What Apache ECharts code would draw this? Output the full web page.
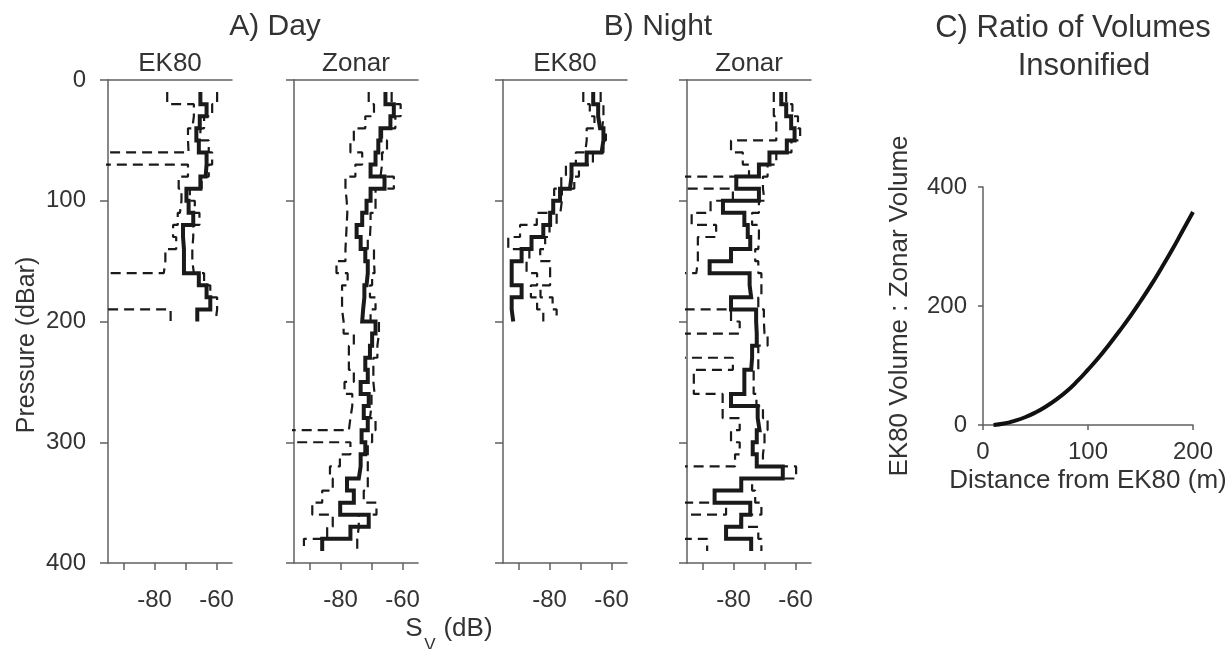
<!DOCTYPE html>
<html><head><meta charset="utf-8">
<script src="https://cdn.jsdelivr.net/npm/echarts@6/dist/echarts.min.js"></script>
<style>html,body{margin:0;padding:0;background:#fff}#c{width:1232px;height:649px}</style>
</head><body><div id="c"></div>
<script>
// ---------- data ----------
const ek80Pressure = [10,20,30,40,50,60,70,80,90,100,110,120,130,140,150,160,170,180,190,200];
const zonarPressure = [10,20,30,40,50,60,70,80,90,100,110,120,130,140,150,160,170,180,190,200,
  210,220,230,240,250,260,270,280,290,300,310,320,330,340,350,360,370,380,390];

// A) Day - EK80 (Sv, dB)
const dayEK80Main = [-65.2,-63.2,-65.4,-66.5,-65.7,-63.2,-63.5,-65.2,-69.7,-69.0,-67.5,-70.8,-70.5,-70.5,-70.5,-65.7,-63.2,-62.0,-66.2];
const dayEK80Low  = [-75.9,-67.3,-67.8,-69.2,-69.0,-100,-69.2,-72.2,-71.3,-71.8,-72.5,-74.0,-73.0,-76.5,-77.0,-100,-100,-100,-74.8];
const dayEK80High = [-59.8,-61.4,-64.0,-65.2,-62.5,-61.4,-62.5,-64.8,-68.6,-67.0,-65.5,-67.5,-67.8,-67.8,-67.3,-64.0,-62.0,-59.8,-60.3];

// A) Day - Zonar
const dayZonarMain = [-65.5,-62.8,-63.9,-67.1,-67.8,-68.7,-70.3,-65.8,-70.3,-71.6,-73.0,-74.8,-73.5,-72.0,-71.2,-71.6,-72.3,-72.7,-73.0,
  -68.7,-69.8,-70.5,-72.0,-71.2,-73.5,-70.9,-72.5,-71.2,-73.2,-72.0,-73.5,-74.1,-77.9,-75.7,-80.1,-70.9,-76.8,-85.9];
const dayZonarLow = [-70.9,-69.2,-72.0,-75.7,-76.8,-73.0,-75.2,-78.4,-78.0,-77.8,-78.0,-78.2,-78.4,-78.4,-81.3,-77.7,-79.5,-79.5,-79.0,
  -79.0,-75.7,-77.3,-77.3,-75.7,-78.7,-76.2,-76.8,-77.3,-100,-76.8,-80.2,-83.4,-82.5,-85.9,-89.1,-82.5,-84.3,-91.8];
const dayZonarHigh = [-63.5,-60.6,-62.3,-66.6,-65.0,-66.6,-67.1,-62.8,-68.7,-68.7,-70.3,-70.5,-71.2,-69.2,-69.0,-69.8,-70.5,-68.7,-70.3,
  -67.6,-68.1,-68.1,-69.4,-69.4,-69.0,-70.0,-70.5,-68.7,-69.8,-71.2,-71.2,-71.2,-71.2,-72.5,-68.4,-74.1,-74.6,-74.6];

// B) Night - EK80
const nightEK80Main = [-65.9,-64.3,-63.7,-62.6,-63.2,-68.0,-72.9,-73.4,-76.6,-78.8,-79.8,-82.0,-85.8,-89.0,-92.2,-92.2,-89.0,-92.2,-91.7];
const nightEK80Low  = [-69.1,-67.0,-65.5,-68.0,-68.5,-71.5,-74.7,-76.2,-78.5,-79.0,-84.1,-89.5,-93.3,-86.5,-87.4,-84.0,-86.0,-84.0,-82.0];
const nightEK80High = [-63.5,-62.6,-63.0,-61.8,-62.6,-66.0,-70.5,-72.0,-76.0,-76.5,-77.7,-80.0,-81.4,-83.0,-79.8,-79.8,-82.9,-79.0,-77.7];

// B) Night - Zonar
const nightZonarMain = [-64.6,-63.0,-61.4,-60.3,-62.8,-68.4,-71.8,-79.1,-71.8,-83.4,-76.5,-75.4,-74.6,-80.8,-87.7,-74.8,-74.3,-80.8,-72.7,
  -72.5,-72.5,-74.0,-74.3,-76.5,-76.5,-80.8,-72.2,-71.6,-72.5,-73.8,-72.5,-64.1,-77.5,-86.1,-74.6,-77.5,-82.4,-74.3];
const nightZonarLow = [-67.0,-67.0,-66.2,-66.2,-80.8,-77.0,-75.0,-100,-80.2,-87.4,-93.5,-85.6,-91.5,-91.5,-92.0,-100,-100,-100,-80.8,
  -78.0,-100,-100,-80.2,-92.8,-92.8,-83.5,-83.5,-78.0,-80.8,-78.0,-79.5,-100,-100,-100,-82.4,-100,-100,-88.5];
const nightZonarHigh = [-63.0,-61.0,-59.2,-58.5,-61.3,-66.2,-69.0,-70.5,-70.0,-71.8,-74.0,-71.8,-72.0,-73.0,-72.0,-71.0,-71.0,-72.0,-70.2,
  -70.0,-69.0,-72.0,-72.0,-73.5,-73.5,-72.6,-70.5,-69.0,-70.0,-70.5,-70.5,-59.8,-74.0,-73.0,-71.0,-77.7,-72.0,-71.0];

// C) Ratio of volumes insonified
const distance = [10,20,30,40,50,60,70,80,90,100,110,120,130,140,150,160,170,180,190,200];
const volumeRatio = [0,2.5,7,13,21,31,43,57,74,93,113,135,158,182,208,235,264,294,326,358];

const svTicks = [-90,-80,-70,-60];
const svLabels = [-80,-60];
const panelTitles = ['EK80','Zonar','EK80','Zonar'];

// ---------- chart ----------
const FONT = "'Liberation Sans', Arial, Helvetica, sans-serif";
const AX = '#606060', TXT = '#333333', INK = '#1a1a1a';
const panelLeft = [108, 294, 503, 687];
const panels = [
  [dayEK80Main, dayEK80Low, dayEK80High, ek80Pressure],
  [dayZonarMain, dayZonarLow, dayZonarHigh, zonarPressure],
  [nightEK80Main, nightEK80Low, nightEK80High, ek80Pressure],
  [nightZonarMain, nightZonarLow, nightZonarHigh, zonarPressure]
];
function steps(edges, vals) {
  const pts = [];
  vals.forEach((v, i) => { pts.push([v, edges[i]]); pts.push([v, edges[i + 1]]); });
  return pts;
}
const axisLineStyle = { color: AX, width: 1.5 };
const grid = [], xAxis = [], yAxis = [], series = [];
panels.forEach((p, i) => {
  grid.push({ left: panelLeft[i], top: 80, width: 124, height: 483 });
  xAxis.push({ gridIndex: i, type: 'value', min: -95, max: -55, position: 'bottom',
    axisLine: { show: true, onZero: false, lineStyle: axisLineStyle },
    axisTick: { show: true, length: 7, customValues: svTicks, lineStyle: axisLineStyle },
    axisLabel: { show: true, customValues: svLabels, fontSize: 24, color: TXT, margin: 25, fontFamily: FONT },
    splitLine: { show: false } });
  xAxis.push({ gridIndex: i, type: 'value', min: -95, max: -55, position: 'top',
    axisLine: { show: true, onZero: false, lineStyle: axisLineStyle },
    axisTick: { show: false }, axisLabel: { show: false }, splitLine: { show: false } });
  yAxis.push({ gridIndex: i, type: 'value', inverse: true, min: 0, max: 400, interval: 100,
    axisLine: { show: true, onZero: false, lineStyle: axisLineStyle },
    axisTick: { show: true, length: 8, lineStyle: axisLineStyle },
    axisLabel: { show: i === 0, fontSize: 24, color: TXT, margin: 22, fontFamily: FONT },
    splitLine: { show: false } });
  const xi = i * 2;
  [p[1], p[2]].forEach(d => series.push({ type: 'line', xAxisIndex: xi, yAxisIndex: i,
    data: steps(p[3], d), symbol: 'none', clip: true, silent: true,
    lineStyle: { color: INK, width: 2.2, type: [10, 6] } }));
  series.push({ type: 'line', xAxisIndex: xi, yAxisIndex: i, data: steps(p[3], p[0]),
    symbol: 'none', clip: true, silent: true, lineStyle: { color: INK, width: 4, join: 'miter' } });
});
// panel C
grid.push({ left: 983, top: 187, width: 210, height: 238 });
xAxis.push({ gridIndex: 4, type: 'value', min: 0, max: 200, interval: 100,
  axisLine: { show: true, onZero: false, lineStyle: axisLineStyle },
  axisTick: { show: true, length: 5, lineStyle: axisLineStyle },
  axisLabel: { fontSize: 24, color: TXT, margin: 15, fontFamily: FONT }, splitLine: { show: false } });
yAxis.push({ gridIndex: 4, type: 'value', min: 0, max: 400, interval: 200,
  axisLine: { show: true, onZero: false, lineStyle: axisLineStyle },
  axisTick: { show: true, length: 5, lineStyle: axisLineStyle },
  axisLabel: { fontSize: 24, color: TXT, margin: 16, fontFamily: FONT }, splitLine: { show: false } });
series.push({ type: 'line', xAxisIndex: 8, yAxisIndex: 4, smooth: true, symbol: 'none', silent: true,
  data: distance.map((d, i) => [d, volumeRatio[i]]), lineStyle: { color: '#111', width: 4 } });

function txt(text, x, y, size, rot) {
  return { type: 'text', x: x, y: y, rotation: rot || 0, silent: true,
    style: { text: text, fontSize: size, fontFamily: FONT, fill: TXT,
      align: 'center', verticalAlign: 'middle', textAlign: 'center', textVerticalAlign: 'middle' } };
}
const graphic = [
  txt('A) Day', 275, 27, 30), txt('B) Night', 658, 27, 30),
  txt(panelTitles[0], 170, 64, 26), txt(panelTitles[1], 356, 64, 26),
  txt(panelTitles[2], 565, 64, 26), txt(panelTitles[3], 749, 64, 26),
  txt('C) Ratio of Volumes', 1073, 28, 31), txt('Insonified', 1084, 66, 31),
  txt('Pressure (dBar)', 27, 345, 25, Math.PI / 2),
  txt('EK80 Volume : Zonar Volume', 900, 306, 26, Math.PI / 2),
  txt('Distance from EK80 (m)', 1088, 481, 26),
  txt('S', 414, 629, 26), txt('V', 430, 645, 17), txt('(dB)', 468, 629, 26)
];

const chart = echarts.init(document.getElementById('c'), null, { renderer: 'canvas' });
chart.setOption({ animation: false, backgroundColor: '#fff', textStyle: { fontFamily: FONT },
  grid, xAxis, yAxis, series, graphic });
</script></body></html>
